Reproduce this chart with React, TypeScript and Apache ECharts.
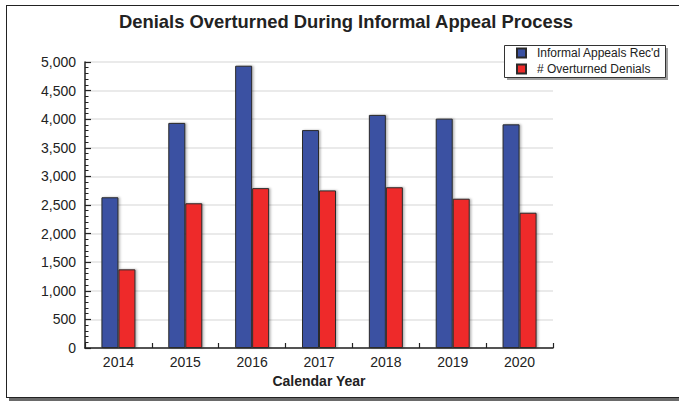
import React, { useEffect, useRef } from "react";
import * as echarts from "echarts";

const years = ["2014", "2015", "2016", "2017", "2018", "2019", "2020"];
const appealsReceived = [2635, 3935, 4935, 3810, 4075, 4010, 3910];
const overturnedDenials = [1375, 2530, 2795, 2755, 2810, 2610, 2365];
const seriesNames = ["Informal Appeals Rec'd", "# Overturned Denials"];
const titleText = "Denials Overturned During Informal Appeal Process";
const xAxisName = "Calendar Year";

const FONT = "'Liberation Sans', Arial, sans-serif";

export default function App() {
  const ref = useRef<HTMLDivElement>(null);
  useEffect(() => {
    if (!ref.current) return;
    const chart = echarts.init(ref.current, undefined, { renderer: "svg" });
    const barShadow = {
      shadowColor: "rgba(0,0,0,0.3)",
      shadowBlur: 2,
      shadowOffsetX: 1.5,
      shadowOffsetY: 0,
    };
    chart.setOption({
      animation: false,
      backgroundColor: "#ffffff",
      textStyle: { fontFamily: FONT },
      title: {
        text: titleText,
        left: 119,
        top: 12,
        padding: 0,
        textStyle: { fontFamily: FONT, fontSize: 18.4, fontWeight: "bold", color: "#222" },
      },
      graphic: [
        { type: "line", shape: { x1: 6, y1: 5.5, x2: 679, y2: 5.5 }, style: { stroke: "#222", lineWidth: 1 } },
        { type: "line", shape: { x1: 6.5, y1: 5, x2: 6.5, y2: 398 }, style: { stroke: "#222", lineWidth: 1 } },
        { type: "rect", shape: { x: 9, y: 398, width: 670, height: 3 }, style: { fill: "#6a6a6a" } },
        { type: "line", shape: { x1: 6, y1: 397.5, x2: 679, y2: 397.5 }, style: { stroke: "#222", lineWidth: 1.2 } },
        { type: "rect", shape: { x: 507, y: 48, width: 161, height: 32 }, style: { fill: "#a0a0a0" }, z: 1 },
        { type: "rect", shape: { x: 504.5, y: 45.5, width: 161, height: 32 }, style: { fill: "#fff", stroke: "#333", lineWidth: 1 }, z: 2 },
      ],
      legend: {
        orient: "vertical",
        left: 516,
        top: 47,
        padding: 0,
        itemWidth: 9,
        itemHeight: 9,
        itemGap: 4,
        icon: "rect",
        z: 10,
        textStyle: { fontFamily: FONT, fontSize: 12, color: "#222", padding: [0, 0, 0, 6], lineHeight: 10 },
        data: seriesNames,
      },
      grid: { left: 85, right: 126, top: 62, bottom: 53, containLabel: false },
      xAxis: {
        type: "category",
        data: years,
        boundaryGap: true,
        axisLine: { show: true, lineStyle: { color: "#222", width: 1.5 } },
        axisTick: { show: true, inside: true, length: 5, interval: 0, alignWithLabel: false, lineStyle: { color: "#222", width: 1.2 } },
        axisLabel: { fontFamily: FONT, fontSize: 14, color: "#222", margin: 7, interval: 0 },
        name: xAxisName,
        nameLocation: "middle",
        nameGap: 25,
        nameTextStyle: { fontFamily: FONT, fontSize: 14, fontWeight: "bold", color: "#222" },
        splitLine: { show: false },
      },
      yAxis: {
        type: "value",
        min: 0,
        max: 5000,
        interval: 500,
        axisLine: { show: true, lineStyle: { color: "#222", width: 1.5 } },
        axisTick: { show: true, inside: true, length: 6, lineStyle: { color: "#222", width: 1.2 } },
        minorTick: { show: true, splitNumber: 5, length: 3.5, lineStyle: { color: "#222", width: 1 } },
        minorSplitLine: { show: false },
        axisLabel: {
          fontFamily: FONT,
          fontSize: 14,
          color: "#222",
          margin: 9,
          formatter: (v: number) => v.toLocaleString("en-US"),
        },
        splitLine: { show: true, lineStyle: { color: "#e3e3e3", width: 1.5 } },
      },
      series: [
        {
          name: seriesNames[0],
          type: "bar",
          data: appealsReceived,
          barWidth: 17,
          barGap: "0%",
          itemStyle: { color: "#3a51a2", borderColor: "#2a2a2a", borderWidth: 1, ...barShadow },
        },
        {
          name: seriesNames[1],
          type: "bar",
          data: overturnedDenials,
          barWidth: 17,
          barGap: "0%",
          itemStyle: { color: "#ee2a2a", borderColor: "#2a2a2a", borderWidth: 1, ...barShadow },
        },
      ],
    });
    return () => chart.dispose();
  }, []);
  return (
    <div
      ref={ref}
      style={{ position: "fixed", left: 0, top: 0, width: 679, height: 401 }}
    />
  );
}
